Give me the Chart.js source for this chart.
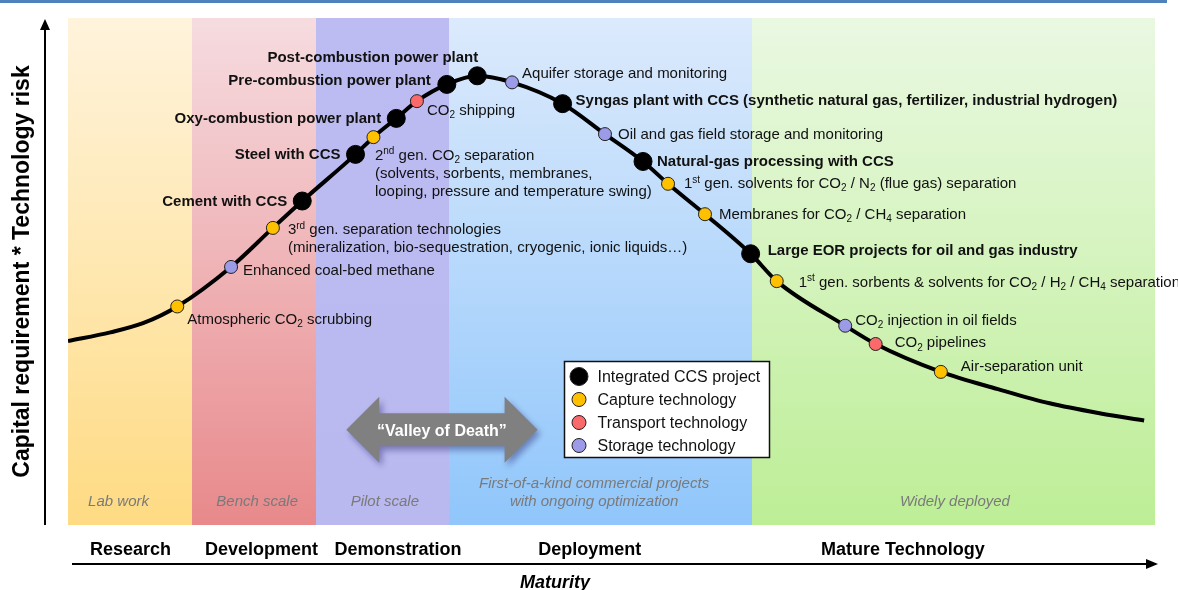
<!DOCTYPE html>
<html>
<head>
<meta charset="utf-8">
<script src="https://cdn.jsdelivr.net/npm/chart.js@4.4.1/dist/chart.umd.min.js"></script>
<style>
  html, body { margin: 0; padding: 0; background: #fff; }
  canvas { display: block; }
</style>
</head>
<body>
<canvas id="ccsChart" width="1178" height="590"></canvas>
<script>
// maturity stages (x axis, % of maturity)
const stageNames = ["Research", "Development", "Demonstration", "Deployment", "Mature Technology"];
const stageEdges = [0, 11.4, 22.8, 35.05, 62.9, 100];
const stageNotes = ["Lab work", "Bench scale", "Pilot scale",
  "First-of-a-kind commercial projects\nwith ongoing optimization", "Widely deployed"];

// the maturity curve (capital requirement * technology risk)
const curveX = [0, 3.9, 6.9, 10.05, 15.0, 18.85, 21.55, 26.45, 28.1, 30.2, 32.1, 34.85, 37.65, 40.85,
  45.5, 49.4, 52.9, 55.2, 58.6, 62.8, 65.2, 71.5, 74.3, 80.3, 85.55, 90.3, 95.0, 99.0];
const curveY = [36.3, 38.0, 39.8, 43.1, 50.9, 58.6, 63.9, 73.1, 76.5, 80.2, 83.6, 86.9, 88.6, 87.3,
  83.1, 77.1, 71.7, 67.3, 61.3, 53.5, 48.1, 39.3, 35.7, 30.2, 26.8, 24.0, 22.0, 20.6];

// integrated CCS projects
const integratedNames = ["Cement with CCS", "Steel with CCS", "Oxy-combustion power plant",
  "Pre-combustion power plant", "Post-combustion power plant",
  "Syngas plant with CCS (synthetic natural gas, fertilizer, industrial hydrogen)",
  "Natural-gas processing with CCS", "Large EOR projects for oil and gas industry"];
const integratedX = [21.55, 26.45, 30.2, 34.85, 37.65, 45.5, 52.9, 62.8];
const integratedY = [63.9, 73.1, 80.2, 86.9, 88.6, 83.1, 71.7, 53.5];

// capture technologies
const captureNames = ["Atmospheric CO_{2} scrubbing",
  "3^{rd} gen. separation technologies\n(mineralization, bio-sequestration, cryogenic, ionic liquids\u2026)",
  "2^{nd} gen. CO_{2} separation\n(solvents, sorbents, membranes,\nlooping, pressure and temperature swing)",
  "1^{st} gen. solvents for CO_{2} / N_{2} (flue gas) separation",
  "Membranes for CO_{2} / CH_{4} separation",
  "1^{st} gen. sorbents & solvents for CO_{2} / H_{2} / CH_{4} separation",
  "Air-separation unit"];
const captureX = [10.05, 18.85, 28.1, 55.2, 58.6, 65.2, 80.3];
const captureY = [43.1, 58.6, 76.5, 67.3, 61.3, 48.1, 30.2];

// transport technologies
const transportNames = ["CO_{2} shipping", "CO_{2} pipelines"];
const transportX = [32.1, 74.3];
const transportY = [83.6, 35.7];

// storage technologies
const storageNames = ["Enhanced coal-bed methane", "Aquifer storage and monitoring",
  "Oil and gas field storage and monitoring", "CO_{2} injection in oil fields"];
const storageX = [15.0, 40.85, 49.4, 71.5];
const storageY = [50.9, 87.3, 77.1, 39.3];

// ---- layout / style ----
const FONT = '"Liberation Sans", Arial, sans-serif';
const bandTop = ['#fff3dc', '#f6dce0', '#bdbcf2', '#dceafc', '#eaf8e2'];
const bandBot = ['#fedb83', '#e8898b', '#b9b8ef', '#90c6fb', '#bdee96'];
const stageLabelX = [5.75, 17.8, 30.35, 48.0, 76.8];
const stageNoteX = [4.65, 17.4, 29.15, 48.4, 81.6];
// label offsets from the marker in px: [dx, dy, align]
const integratedLabelPos = [[-15, 0, 'right'], [-15, -1, 'right'], [-15, -1, 'right'], [-16, -5, 'right'],
  [1, -19, 'right'], [13, -4, 'left'], [14, -1, 'left'], [17, -4, 'left']];
const captureLabelPos = [[10, 12, 'left'], [15, 1, 'left'], [1.5, 17, 'left'], [16, -1, 'left'],
  [14, -1, 'left'], [22, 0, 'left'], [20, -6, 'left']];
const transportLabelPos = [[10, 8, 'left'], [19, -2, 'left']];
const storageLabelPos = [[12, 3, 'left'], [10, -10, 'left'], [13, -1, 'left'], [10, -6, 'left']];

function toPoints(xs, ys) {
  return xs.map((x, i) => ({ x: x, y: ys[i] }));
}

// text with _{sub} and ^{sup} parts
function richParts(str) {
  const parts = [];
  const re = /([_^])\{([^}]*)\}/g;
  let last = 0, m;
  while ((m = re.exec(str))) {
    if (m.index > last) parts.push({ t: str.slice(last, m.index), k: '' });
    parts.push({ t: m[2], k: m[1] });
    last = re.lastIndex;
  }
  if (last < str.length) parts.push({ t: str.slice(last), k: '' });
  return parts;
}

function drawRich(ctx, str, x, y, size, weight, align, color) {
  const parts = richParts(str);
  const fontFor = k => weight + ' ' + (k ? Math.round(size * 0.66) : size) + 'px ' + FONT;
  let w = 0;
  parts.forEach(p => { ctx.font = fontFor(p.k); p.w = ctx.measureText(p.t).width; w += p.w; });
  let cx = align === 'right' ? x - w : align === 'center' ? x - w / 2 : x;
  ctx.fillStyle = color;
  ctx.textAlign = 'left';
  ctx.textBaseline = 'alphabetic';
  const base = y + size * 0.36;
  parts.forEach(p => {
    ctx.font = fontFor(p.k);
    const dy = p.k === '_' ? size * 0.22 : p.k === '^' ? -size * 0.36 : 0;
    ctx.fillText(p.t, cx, base + dy);
    cx += p.w;
  });
}

function drawLines(ctx, str, x, y, size, weight, align, color, gap) {
  str.split('\n').forEach((line, i) => drawRich(ctx, line, x, y + i * gap, size, weight, align, color));
}

const decor = {
  id: 'decor',
  beforeDatasetsDraw(chart) {
    const ctx = chart.ctx, area = chart.chartArea;
    const xs = chart.scales.x, ys = chart.scales.y;
    ctx.save();
    // stage bands
    for (let i = 0; i < stageNames.length; i++) {
      const x0 = Math.round(xs.getPixelForValue(stageEdges[i]));
      const x1 = Math.round(xs.getPixelForValue(stageEdges[i + 1]));
      const g = ctx.createLinearGradient(0, area.top, 0, area.bottom);
      g.addColorStop(0, bandTop[i]);
      g.addColorStop(1, bandBot[i]);
      ctx.fillStyle = g;
      ctx.fillRect(x0, area.top, x1 - x0, area.bottom - area.top);
    }
    // stage notes
    stageNotes.forEach((note, i) => {
      const lines = note.split('\n');
      const x = xs.getPixelForValue(stageNoteX[i]);
      lines.forEach((l, j) => {
        ctx.font = 'italic 15px ' + FONT;
        ctx.fillStyle = '#7a7a7a';
        ctx.textAlign = 'center';
        ctx.textBaseline = 'alphabetic';
        ctx.fillText(l, x, area.bottom - 19 - (lines.length - 1 - j) * 18);
      });
    });
    // "Valley of Death" double arrow
    const ax0 = xs.getPixelForValue(25.6), ax1 = xs.getPixelForValue(43.2);
    const ay = ys.getPixelForValue(18.8);
    const head = 33, half = 33, shaft = 16.5;
    ctx.save();
    ctx.shadowColor = 'rgba(40, 40, 110, 0.45)';
    ctx.shadowBlur = 6;
    ctx.shadowOffsetX = 3;
    ctx.shadowOffsetY = 4;
    ctx.beginPath();
    ctx.moveTo(ax0, ay);
    ctx.lineTo(ax0 + head, ay - half);
    ctx.lineTo(ax0 + head, ay - shaft);
    ctx.lineTo(ax1 - head, ay - shaft);
    ctx.lineTo(ax1 - head, ay - half);
    ctx.lineTo(ax1, ay);
    ctx.lineTo(ax1 - head, ay + half);
    ctx.lineTo(ax1 - head, ay + shaft);
    ctx.lineTo(ax0 + head, ay + shaft);
    ctx.lineTo(ax0 + head, ay + half);
    ctx.closePath();
    ctx.fillStyle = '#808080';
    ctx.fill();
    ctx.restore();
    ctx.font = 'bold 16px ' + FONT;
    ctx.fillStyle = '#fff';
    ctx.textAlign = 'center';
    ctx.textBaseline = 'alphabetic';
    ctx.fillText('\u201CValley of Death\u201D', (ax0 + ax1) / 2, ay + 6);
    ctx.restore();
  },
  afterDatasetsDraw(chart) {
    const ctx = chart.ctx;
    const groups = [
      [1, integratedNames, integratedLabelPos, 'bold'],
      [2, captureNames, captureLabelPos, 'normal'],
      [3, transportNames, transportLabelPos, 'normal'],
      [4, storageNames, storageLabelPos, 'normal']
    ];
    ctx.save();
    groups.forEach(([di, names, pos, weight]) => {
      const meta = chart.getDatasetMeta(di);
      meta.data.forEach((pt, i) => {
        const [dx, dy, align] = pos[i];
        drawLines(ctx, names[i], pt.x + dx, pt.y + dy, 15, weight, align, '#111', 18);
      });
    });

    // legend box
    const xs = chart.scales.x, ys = chart.scales.y;
    const lx0 = Math.round(xs.getPixelForValue(45.6)) + 0.5;
    const lx1 = Math.round(xs.getPixelForValue(64.5)) + 0.5;
    const ly0 = Math.round(ys.getPixelForValue(32.4)) + 0.5;
    const ly1 = Math.round(ys.getPixelForValue(13.4)) + 0.5;
    ctx.fillStyle = '#fff';
    ctx.fillRect(lx0, ly0, lx1 - lx0, ly1 - ly0);
    ctx.strokeStyle = '#111';
    ctx.lineWidth = 1.5;
    ctx.strokeRect(lx0, ly0, lx1 - lx0, ly1 - ly0);
    for (let di = 1; di <= 4; di++) {
      const ds = chart.data.datasets[di];
      const cy = ly0 + 15 + (di - 1) * 23;
      ctx.beginPath();
      ctx.arc(lx0 + 14.5, cy, di === 1 ? 9 : 7, 0, Math.PI * 2);
      ctx.fillStyle = ds.backgroundColor;
      ctx.fill();
      ctx.lineWidth = 1;
      ctx.strokeStyle = '#222';
      ctx.stroke();
      drawRich(ctx, ds.label, lx0 + 33, cy, 16, 'normal', 'left', '#111');
    }
    ctx.restore();
  },
  afterDraw(chart) {
    const ctx = chart.ctx, area = chart.chartArea;
    const xs = chart.scales.x;
    ctx.save();
    // top rule
    ctx.fillStyle = '#4f81bd';
    ctx.fillRect(0, 0, 1167, 3);
    ctx.strokeStyle = '#000';
    ctx.fillStyle = '#000';
    ctx.lineWidth = 2;
    // y axis arrow
    const yx = area.left - 23;
    ctx.beginPath();
    ctx.moveTo(yx, area.bottom);
    ctx.lineTo(yx, area.top + 10);
    ctx.stroke();
    ctx.beginPath();
    ctx.moveTo(yx, area.top + 1);
    ctx.lineTo(yx - 5, area.top + 12);
    ctx.lineTo(yx + 5, area.top + 12);
    ctx.closePath();
    ctx.fill();
    // x axis arrow
    const xy = area.bottom + 39;
    ctx.beginPath();
    ctx.moveTo(area.left + 4, xy);
    ctx.lineTo(area.right - 7, xy);
    ctx.stroke();
    ctx.beginPath();
    ctx.moveTo(area.right + 3, xy);
    ctx.lineTo(area.right - 9, xy - 5);
    ctx.lineTo(area.right - 9, xy + 5);
    ctx.closePath();
    ctx.fill();
    // stage names
    ctx.font = 'bold 18px ' + FONT;
    ctx.textAlign = 'center';
    ctx.textBaseline = 'alphabetic';
    stageNames.forEach((n, i) => ctx.fillText(n, xs.getPixelForValue(stageLabelX[i]), area.bottom + 30));
    // axis titles
    ctx.font = 'italic bold 18px ' + FONT;
    ctx.fillText('Maturity', xs.getPixelForValue(44.8), area.bottom + 63);
    ctx.translate(area.left - 45, (area.top + area.bottom) / 2);
    ctx.rotate(-Math.PI / 2);
    ctx.font = 'bold 23px ' + FONT;
    ctx.textBaseline = 'middle';
    ctx.fillText('Capital requirement * Technology risk', 0, 0);
    ctx.restore();
  }
};

new Chart(document.getElementById('ccsChart'), {
  type: 'line',
  data: {
    datasets: [
      {
        label: 'curve',
        data: toPoints(curveX, curveY),
        borderColor: '#000',
        borderWidth: 4,
        pointRadius: 0,
        fill: false,
        cubicInterpolationMode: 'monotone',
        order: 5
      },
      {
        label: 'Integrated CCS project',
        data: toPoints(integratedX, integratedY),
        showLine: false,
        backgroundColor: '#000',
        borderColor: '#000',
        pointRadius: 9,
        pointBorderWidth: 1,
        order: 1
      },
      {
        label: 'Capture technology',
        data: toPoints(captureX, captureY),
        showLine: false,
        backgroundColor: '#ffc000',
        borderColor: '#222',
        pointRadius: 6.5,
        pointBorderWidth: 1,
        order: 1
      },
      {
        label: 'Transport technology',
        data: toPoints(transportX, transportY),
        showLine: false,
        backgroundColor: '#fa6a6a',
        borderColor: '#222',
        pointRadius: 6.5,
        pointBorderWidth: 1,
        order: 1
      },
      {
        label: 'Storage technology',
        data: toPoints(storageX, storageY),
        showLine: false,
        backgroundColor: '#9b9be8',
        borderColor: '#222',
        pointRadius: 6.5,
        pointBorderWidth: 1,
        order: 1
      }
    ]
  },
  options: {
    responsive: false,
    animation: false,
    devicePixelRatio: 1,
    layout: { autoPadding: false, padding: { left: 68, right: 23, top: 18, bottom: 65 } },
    scales: {
      x: { type: 'linear', min: 0, max: 100, display: false },
      y: { type: 'linear', min: 0, max: 100, display: false }
    },
    plugins: {
      legend: { display: false },
      tooltip: { enabled: false }
    }
  },
  plugins: [decor]
});
</script>
</body>
</html>
